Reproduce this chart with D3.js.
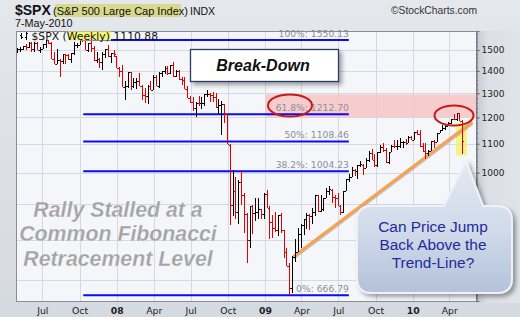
<!DOCTYPE html>
<html>
<head>
<meta charset="utf-8">
<script src="https://cdn.jsdelivr.net/npm/d3@7"></script>
<style>
  body { margin: 0; background: #dfe2e8; }
  svg { display: block; }
</style>
</head>
<body>
<script>
// ===================== DATA =====================
// weekly bars, first week starts Mon 30-Apr-2007, last week starts Mon 3-May-2010
const firstWeek = new Date(2007, 3, 30)
const lastWeek = new Date(2010, 4, 3)

const opens = [1494,1505,1505,1522,1515,1536,1507,1533,1502,1503,1530,1548,1534,1458,1433,1453,1445,1479,1473,1454,
  1484,1525,1527,1550,1548,1500,1535,1509,1453,1458,1440,1481,1504,1468,1484,1468,1411,1401,1325,1330,
  1395,1331,1349,1353,1330,1293,1288,1330,1315,1370,1332,1390,1398,1413,1388,1426,1375,1400,1361,1360,
  1318,1278,1262,1239,1260,1257,1260,1296,1298,1292,1283,1242,1252,1255,1213,1097,899,940,877,968,
  930,873,800,896,876,879,886,872,931,890,850,832,826,869,827,770,735,683,757,768,
  815,842,857,869,866,877,929,882,887,919,940,945,921,918,896,879,940,979,987,1010,
  1004,1026,1025,1016,1042,1068,1044,1025,1071,1087,1079,1036,1069,1093,1091,1091,1106,1106,1102,1126,
  1115,1145,1136,1092,1074,1066,1075,1109,1105,1139,1150,1160,1167,1179,1194,1192,1217,1187]
const highs = [1510,1513,1522,1530,1540,1540,1538,1540,1516,1532,1550,1552,1539,1488,1503,1456,1479,1481,1481,1485,
  1538,1533,1553,1555,1552,1535,1552,1520,1492,1463,1488,1504,1523,1485,1498,1471,1420,1428,1353,1396,
  1396,1369,1368,1388,1335,1321,1335,1352,1380,1383,1395,1400,1421,1424,1426,1440,1406,1404,1370,1371,
  1333,1290,1285,1263,1290,1283,1297,1313,1300,1304,1303,1274,1265,1255,1213,1098,1007,985,975,1007,
  934,875,896,897,919,918,887,934,943,894,870,877,870,875,827,780,741,758,804,833,
  845,857,875,872,888,930,930,930,920,951,956,946,930,934,898,941,979,996,1018,1013,
  1027,1039,1028,1048,1074,1080,1063,1071,1096,1101,1085,1072,1097,1113,1112,1120,1110,1117,1129,1130,
  1145,1150,1150,1103,1104,1079,1110,1112,1139,1151,1170,1174,1181,1194,1214,1217,1219,1190]
const lows = [1484,1491,1498,1500,1510,1490,1492,1500,1484,1503,1510,1530,1454,1433,1433,1370,1430,1432,1453,1439,
  1477,1510,1526,1540,1500,1489,1492,1448,1437,1415,1406,1460,1467,1435,1467,1411,1371,1325,1270,1322,
  1316,1321,1320,1330,1272,1257,1256,1312,1313,1330,1324,1370,1385,1382,1386,1373,1373,1360,1335,1317,
  1278,1257,1225,1200,1247,1234,1248,1282,1261,1262,1236,1212,1133,1180,1099,840,866,857,845,899,
  818,741,780,815,851,857,857,857,888,804,805,821,812,818,755,735,667,672,745,768,
  780,814,830,826,845,866,878,878,880,918,930,904,888,896,869,875,940,969,984,990,
  979,1018,991,1016,1036,1041,1020,1020,1067,1070,1033,1029,1069,1085,1079,1086,1085,1095,1102,1115,
  1115,1131,1090,1071,1045,1056,1075,1086,1105,1138,1147,1151,1165,1175,1190,1185,1186,1065]
const closes = [1505,1505,1522,1515,1536,1507,1533,1502,1503,1530,1548,1534,1458,1433,1453,1445,1479,1473,1454,1484,
  1525,1527,1550,1548,1500,1535,1509,1453,1458,1440,1481,1504,1468,1484,1478,1411,1401,1325,1330,1395,
  1331,1349,1353,1330,1293,1288,1330,1315,1370,1332,1390,1398,1413,1388,1426,1375,1400,1361,1360,1318,
  1278,1262,1239,1260,1257,1260,1296,1298,1292,1283,1242,1252,1255,1213,1099,899,940,877,968,930,
  873,800,896,876,879,887,872,931,890,850,832,826,869,827,770,735,683,757,768,815,
  842,857,869,866,877,929,882,887,919,940,946,921,918,896,879,940,979,987,1010,1004,
  1026,1029,1016,1042,1068,1044,1025,1071,1087,1079,1036,1069,1093,1091,1091,1106,1106,1102,1126,1115,
  1145,1136,1092,1074,1066,1075,1109,1105,1139,1150,1160,1167,1179,1194,1192,1217,1187,1111]

const fibNames = ['100%', '61.8%', '50%', '38.2%', '0%']
const fibValues = [1550.13, 1212.70, 1108.46, 1004.23, 666.79]
const fibStart = new Date(2007, 9, 10)
const fibEnd = new Date(2009, 6, 27)

const yTicks = [1000, 1100, 1200, 1300, 1400, 1500]
const yGrid = [700, 800, 900, 1000, 1100, 1200, 1300, 1400, 1500]
const xTicks = [new Date(2007, 6, 1), new Date(2007, 9, 1), new Date(2008, 0, 1), new Date(2008, 3, 1),
  new Date(2008, 6, 1), new Date(2008, 9, 1), new Date(2009, 0, 1), new Date(2009, 3, 1),
  new Date(2009, 6, 1), new Date(2009, 9, 1), new Date(2010, 0, 1), new Date(2010, 3, 1)]
const xLabels = ['Jul', 'Oct', '08', 'Apr', 'Jul', 'Oct', '09', 'Apr', 'Jul', 'Oct', '10', 'Apr']

// trend line through the 2009 rally lows
const trendDates = [new Date(2009, 2, 12), new Date(2010, 4, 28)]
const trendValues = [757, 1182]

// ===================== SETUP =====================
const W = 520, H = 317
const margin = { top: 31, right: 44, bottom: 16, left: 16 },
  width = W - margin.left - margin.right,
  height = H - margin.top - margin.bottom

const svg = d3.select('body').append('svg')
  .attr('width', W)
  .attr('height', H)
  .style('font-family', '"DejaVu Sans", Verdana, sans-serif')

const defs = svg.append('defs')
const bgGrad = defs.append('linearGradient').attr('id', 'bg').attr('x1', 0).attr('y1', 0).attr('x2', 0).attr('y2', 1)
bgGrad.append('stop').attr('offset', '0%').attr('stop-color', '#e4e7ec')
bgGrad.append('stop').attr('offset', '100%').attr('stop-color', '#d5d9e0')

const axGrad = defs.append('linearGradient').attr('id', 'axbg').attr('x1', 0).attr('y1', 0).attr('x2', 1).attr('y2', 0)
axGrad.append('stop').attr('offset', '0%').attr('stop-color', '#c4c8d0')
axGrad.append('stop').attr('offset', '25%').attr('stop-color', '#dcdfe5')
axGrad.append('stop').attr('offset', '100%').attr('stop-color', '#e0e3e8')

const bubbleGrad = defs.append('linearGradient').attr('id', 'bubble').attr('x1', 0).attr('y1', 0).attr('x2', 0).attr('y2', 1)
bubbleGrad.append('stop').attr('offset', '0%').attr('stop-color', '#e4eaf4')
bubbleGrad.append('stop').attr('offset', '55%').attr('stop-color', '#cfd9e9')
bubbleGrad.append('stop').attr('offset', '100%').attr('stop-color', '#b3c2da')

const shadow = defs.append('filter').attr('id', 'shadow').attr('x', '-20%').attr('y', '-20%').attr('width', '150%').attr('height', '150%')
shadow.append('feDropShadow').attr('dx', 3).attr('dy', 3).attr('stdDeviation', 2)
  .attr('flood-color', '#000').attr('flood-opacity', 0.35)

svg.append('rect').attr('width', W).attr('height', H).attr('fill', 'url(#bg)')
svg.append('rect').attr('x', margin.left + width).attr('y', margin.top)
  .attr('width', margin.right).attr('height', height + 2).attr('fill', 'url(#axbg)')

const x = d3.scaleTime()
  .domain([new Date(2007, 3, 27), new Date(2010, 5, 6)])
  .range([margin.left, margin.left + width])

const y = d3.scaleLog()
  .domain([654, 1597])
  .range([margin.top + height, margin.top])

// plot background
svg.append('rect')
  .attr('x', margin.left).attr('y', margin.top)
  .attr('width', width).attr('height', height)
  .attr('fill', '#f4f6fa')

// grid
const grid = svg.append('g').attr('stroke', '#d5d9e0').attr('shape-rendering', 'crispEdges')
grid.selectAll('.hg').data(yGrid).enter().append('line')
  .attr('x1', margin.left).attr('x2', margin.left + width)
  .attr('y1', d => Math.round(y(d)) + 0.5).attr('y2', d => Math.round(y(d)) + 0.5)
grid.selectAll('.vg').data(xTicks).enter().append('line')
  .attr('y1', margin.top).attr('y2', margin.top + height)
  .attr('x1', d => Math.round(x(d)) + 0.5).attr('x2', d => Math.round(x(d)) + 0.5)

// pink resistance band
svg.append('rect')
  .attr('x', 266).attr('width', margin.left + width - 266)
  .attr('y', y(1295)).attr('height', y(1200) - y(1295))
  .attr('fill', '#f7c4c4').attr('opacity', 0.85)

// fibonacci lines
const fib = svg.append('g')
fib.selectAll('line').data(fibValues).enter().append('line')
  .attr('x1', x(fibStart)).attr('x2', x(fibEnd))
  .attr('y1', d => y(d)).attr('y2', d => y(d))
  .attr('stroke', '#0c0cf0').attr('stroke-width', 2)
fib.selectAll('text').data(fibValues).enter().append('text')
  .attr('x', x(fibEnd))
  .attr('y', d => y(d) - 3.5)
  .attr('text-anchor', 'end')
  .attr('font-size', 9.2)
  .attr('fill', '#8c8f96')
  .text((d, i) => fibNames[i] + ': ' + d.toFixed(2))

// yellow highlight near last bar
svg.append('rect')
  .attr('x', 456).attr('width', 11)
  .attr('y', y(1178)).attr('height', y(1058) - y(1178))
  .attr('fill', '#f2f26a').attr('opacity', 0.8)

// trend line
svg.append('line')
  .attr('x1', x(trendDates[0])).attr('y1', y(trendValues[0]) + 1.5)
  .attr('x2', x(trendDates[1])).attr('y2', y(trendValues[1]) + 1.5)
  .attr('stroke', '#9a8f86').attr('stroke-width', 3).attr('opacity', 0.5)
svg.append('line')
  .attr('x1', x(trendDates[0])).attr('y1', y(trendValues[0]))
  .attr('x2', x(trendDates[1])).attr('y2', y(trendValues[1]))
  .attr('stroke', '#f6a255').attr('stroke-width', 3)

// ===================== BARS =====================
const weeks = d3.timeMonday.range(firstWeek, d3.timeDay.offset(lastWeek, 1))
const bars = weeks.map((d, i) => ({
  date: d, open: opens[i], high: highs[i], low: lows[i], close: closes[i],
  down: i > 0 && closes[i] < closes[i - 1]
}))

const barG = svg.append('g').attr('shape-rendering', 'crispEdges')
const bar = barG.selectAll('g').data(bars).enter().append('g')
  .attr('stroke', d => d.down ? '#e00000' : '#000')
bar.append('line')
  .attr('x1', d => Math.round(x(d.date)) + 0.5).attr('x2', d => Math.round(x(d.date)) + 0.5)
  .attr('y1', d => y(d.high)).attr('y2', d => y(d.low))
bar.append('line')
  .attr('x1', d => Math.round(x(d.date)) - 1).attr('x2', d => Math.round(x(d.date)))
  .attr('y1', d => Math.round(y(d.open)) + 0.5).attr('y2', d => Math.round(y(d.open)) + 0.5)
bar.append('line')
  .attr('x1', d => Math.round(x(d.date)) + 1).attr('x2', d => Math.round(x(d.date)) + 2)
  .attr('y1', d => Math.round(y(d.close)) + 0.5).attr('y2', d => Math.round(y(d.close)) + 0.5)

// ellipses
svg.append('ellipse').attr('cx', 290).attr('cy', 105.5).attr('rx', 22).attr('ry', 11)
  .attr('fill', 'none').attr('stroke', '#c41a1a').attr('stroke-width', 2)
svg.append('ellipse').attr('cx', 454).attr('cy', 115.5).attr('rx', 19.5).attr('ry', 10)
  .attr('fill', 'none').attr('stroke', '#c41a1a').attr('stroke-width', 2)

// ===================== AXES =====================
// plot frame
svg.append('rect')
  .attr('x', margin.left + 0.5).attr('y', margin.top + 0.5)
  .attr('width', width).attr('height', height)
  .attr('fill', 'none').attr('stroke', '#8a8d94').attr('shape-rendering', 'crispEdges')

const yAxis = svg.append('g')
  .attr('transform', 'translate(' + (margin.left + width + 0.5) + ',0)')
  .call(d3.axisRight(y).tickValues(yTicks).tickFormat(d3.format('d')).tickSize(3).tickPadding(2))
yAxis.select('.domain').attr('stroke', '#6e7178')
yAxis.selectAll('.tick line').attr('stroke', '#555')
yAxis.selectAll('text').attr('font-size', 9).attr('fill', '#222').attr('font-family', '"DejaVu Sans", sans-serif')

const minor = d3.range(660, 1600, 20)
svg.append('g').selectAll('line').data(minor).enter().append('line')
  .attr('x1', margin.left + width).attr('x2', margin.left + width + 2)
  .attr('y1', d => Math.round(y(d)) + 0.5).attr('y2', d => Math.round(y(d)) + 0.5)
  .attr('stroke', '#777').attr('shape-rendering', 'crispEdges')

const xAxis = svg.append('g')
  .attr('transform', 'translate(0,' + (margin.top + height + 0.5) + ')')
  .call(d3.axisBottom(x).tickValues(xTicks).tickFormat((d, i) => xLabels[i]).tickSize(0).tickPadding(6))
xAxis.select('.domain').remove()
xAxis.selectAll('text')
  .attr('font-size', 9.3).attr('fill', '#222').attr('font-family', '"DejaVu Sans", sans-serif')
  .attr('font-weight', (d, i) => xLabels[i].length === 2 ? 'bold' : 'normal')

// ===================== HEADER =====================
svg.append('text').attr('x', 15).attr('y', 14.5)
  .attr('font-family', '"Liberation Sans", Arial, sans-serif').attr('font-weight', 'bold').attr('font-size', 14)
  .attr('fill', '#111').text('$SPX')
svg.append('rect').attr('x', 55).attr('y', 4).attr('width', 126).attr('height', 13).attr('fill', '#d7d98c')
svg.append('text').attr('x', 53).attr('y', 14.5)
  .attr('font-family', '"Liberation Sans", Arial, sans-serif').attr('font-size', 11)
  .attr('fill', '#111').text('(S&P 500 Large Cap Index)')
svg.append('text').attr('x', 190).attr('y', 14.5)
  .attr('font-family', '"Liberation Sans", Arial, sans-serif').attr('font-size', 10.5)
  .attr('fill', '#111').text('INDX')
svg.append('text').attr('x', 15).attr('y', 26.5)
  .attr('font-family', '"Liberation Sans", Arial, sans-serif').attr('font-size', 10.8)
  .attr('fill', '#111').text('7-May-2010')
svg.append('text').attr('x', 477).attr('y', 13.5).attr('text-anchor', 'end')
  .attr('font-family', '"Liberation Sans", Arial, sans-serif').attr('font-size', 10.3)
  .attr('fill', '#333').text('\u00a9StockCharts.com')

// legend inside the plot
const leg = svg.append('g')
leg.append('rect').attr('x', 68).attr('y', 31.5).attr('width', 43).attr('height', 9).attr('fill', '#f6f67a')
const icon = leg.append('g').attr('stroke', '#000').attr('shape-rendering', 'crispEdges')
icon.append('line').attr('x1', 21.5).attr('x2', 21.5).attr('y1', 33).attr('y2', 39)
icon.append('line').attr('x1', 20).attr('x2', 21).attr('y1', 35.5).attr('y2', 35.5)
icon.append('line').attr('x1', 22).attr('x2', 23).attr('y1', 37.5).attr('y2', 37.5)
icon.append('line').attr('x1', 26.5).attr('x2', 26.5).attr('y1', 32).attr('y2', 40)
icon.append('line').attr('x1', 25).attr('x2', 26).attr('y1', 37.5).attr('y2', 37.5)
icon.append('line').attr('x1', 27).attr('x2', 28).attr('y1', 33.5).attr('y2', 33.5)
leg.append('text').attr('x', 31.5).attr('y', 40).attr('font-size', 10.8).attr('fill', '#111')
  .text('$SPX (Weekly) 1110.88')

// ===================== ANNOTATIONS =====================
svg.append('rect').attr('x', 190.5).attr('y', 49.5).attr('width', 148).attr('height', 32)
  .attr('fill', '#fff').attr('stroke', '#2b3a68').attr('stroke-width', 1.3).attr('filter', 'url(#shadow)')
svg.append('text').attr('x', 263).attr('y', 71)
  .attr('text-anchor', 'middle')
  .attr('font-family', '"Liberation Sans", Arial, sans-serif').attr('font-weight', 'bold').attr('font-style', 'italic')
  .attr('font-size', 16).attr('fill', '#111').text('Break-Down')

const rally = ['Rally Stalled at a', 'Common Fibonacci', 'Retracement Level']
svg.append('g').selectAll('text').data(rally).enter().append('text')
  .attr('x', 118).attr('y', (d, i) => 217 + i * 24.3)
  .attr('text-anchor', 'middle')
  .attr('font-family', '"Liberation Sans", Arial, sans-serif').attr('font-weight', 'bold').attr('font-style', 'italic')
  .attr('font-size', 21.3).attr('fill', '#a3a3a3')
  .attr('stroke', '#ffffff').attr('stroke-width', 0.4).attr('stroke-opacity', 0.6)
  .text(d => d)

// callout bubble
const bx0 = 357, bx1 = 512, by0 = 206, by1 = 293, r = 15
const bubblePath = [
  'M', bx0 + r, by0,
  'L', 444, by0, 'L', 466, 161, 'L', 483, by0,
  'L', bx1 - r, by0, 'Q', bx1, by0, bx1, by0 + r,
  'L', bx1, by1 - r, 'Q', bx1, by1, bx1 - r, by1,
  'L', bx0 + r, by1, 'Q', bx0, by1, bx0, by1 - r,
  'L', bx0, by0 + r, 'Q', bx0, by0, bx0 + r, by0, 'Z'
].join(' ')
svg.append('path').attr('d', bubblePath)
  .attr('fill', 'url(#bubble)').attr('stroke', '#eef2f8').attr('stroke-width', 2)
  .attr('filter', 'url(#shadow)')
const callout = ['Can Price Jump', 'Back Above the', 'Trend-Line?']
svg.append('g').selectAll('text').data(callout).enter().append('text')
  .attr('x', 433).attr('y', (d, i) => 231.5 + i * 18)
  .attr('text-anchor', 'middle')
  .attr('font-family', '"Liberation Sans", Arial, sans-serif')
  .attr('font-size', 15.4).attr('fill', '#1f2a9c')
  .text(d => d)
</script>
</body>
</html>
